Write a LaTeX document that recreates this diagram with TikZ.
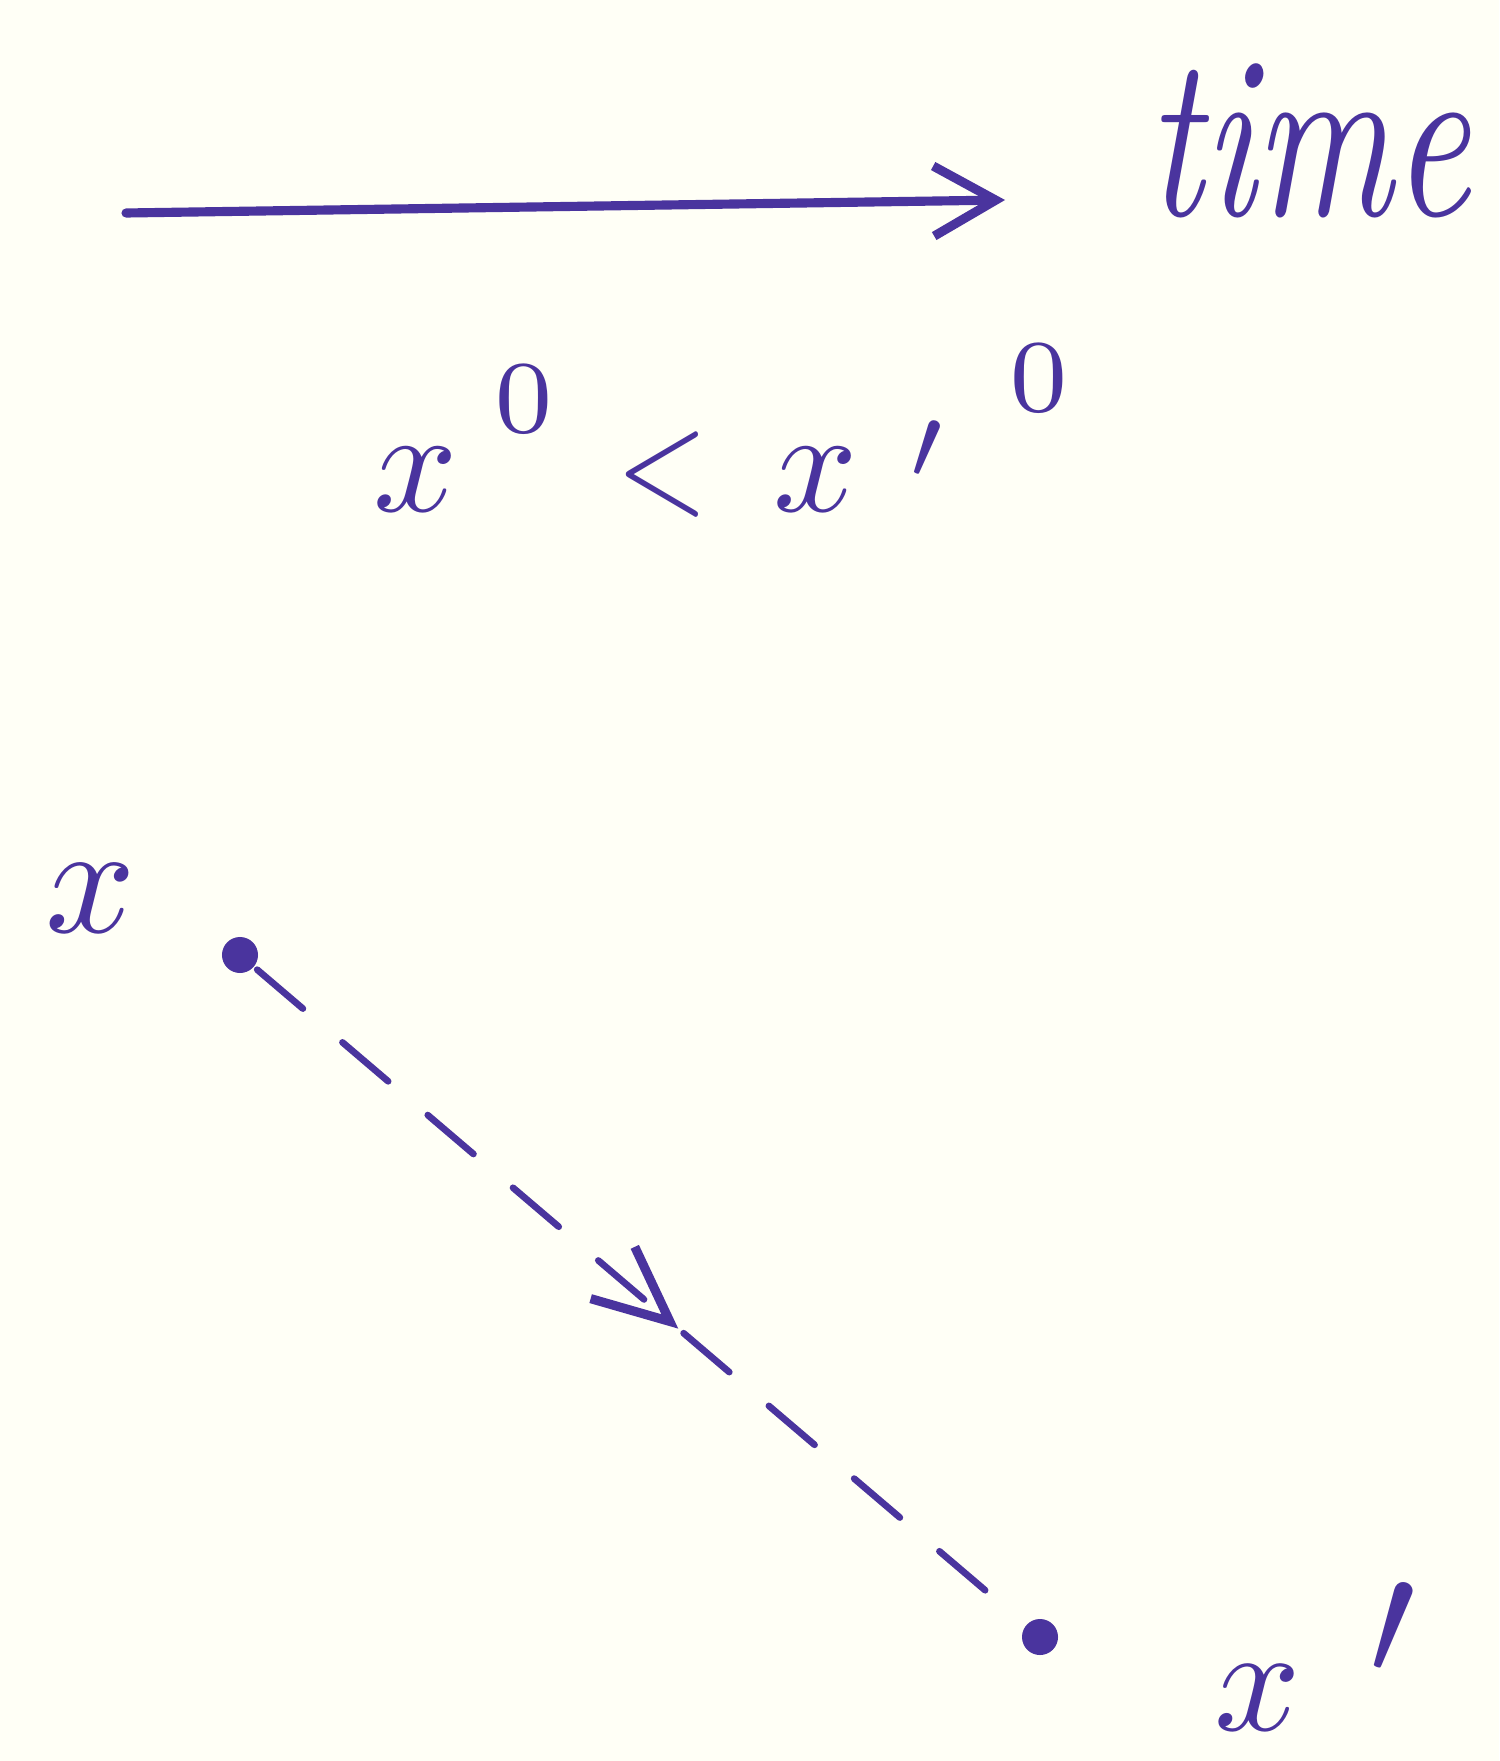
\documentclass[tikz,border=0pt]{standalone}
\usepackage{amsmath,amssymb}
\usepackage{tikz}
\usetikzlibrary{positioning,arrows.meta,decorations.markings}
\usepackage{xcolor}
\definecolor{ink}{RGB}{74,52,158}
\definecolor{paper}{RGB}{255,255,246}

\begin{document}
\begin{tikzpicture}[x=0.01cm,y=-0.01cm,line width=2.6pt,line cap=round,
  hand/.style={text=ink,inner sep=0pt,anchor=base west},
  dot/.style={circle,fill=ink,inner sep=0pt,minimum size=0.36cm},
  flow/.style={draw=ink,line width=1.9pt,dash pattern=on 0.6cm off 0.52cm,
    postaction={decorate},
    decoration={markings,mark=at position 0.55 with {\arrow[ink,solid,line width=2.6pt]{Straight Barb[length=0.75cm,width=0.68cm]}}}}]
\fill[paper] (0,0) rectangle (1499,1761);
\useasboundingbox (0,0) rectangle (1499,1761);
% time axis
\coordinate (t0) at (126,213);
\coordinate (t1) at (1005,200);
\draw[ink,-{Straight Barb[length=0.62cm,width=0.7cm]}] (t0) -- (t1);
\node[hand,font=\itshape,xscale=4.8,yscale=6.6] (timelbl) at (1125,216) {time};
% ordering of the time coordinates
\node[hand,scale=4.2] (order) at (354,511)
  {$x^{\kern2.5pt\raisebox{1.7pt}{$\scriptstyle 0$}}\kern1pt\mathrel{\scalebox{0.8}[1]{$<$}}\kern1.6pt
    x^{\kern3.5pt\raisebox{-1.4pt}{$\scriptstyle\prime$}\kern4.5pt\raisebox{3.1pt}{$\scriptstyle 0$}}$};
% points
\node[hand,scale=4.5] (xa) at (25,932) {$x$};
\node[dot] (p0) at (240,955) {};
\node[dot] (p1) at (1040,1637) {};
\node[hand,scale=4.3] (xb) at (1195,1730) {$x^{\kern4.5pt\scalebox{1.1}{$\prime$}}$};
\draw[flow] (p0) -- (p1);
\end{tikzpicture}
\end{document}
